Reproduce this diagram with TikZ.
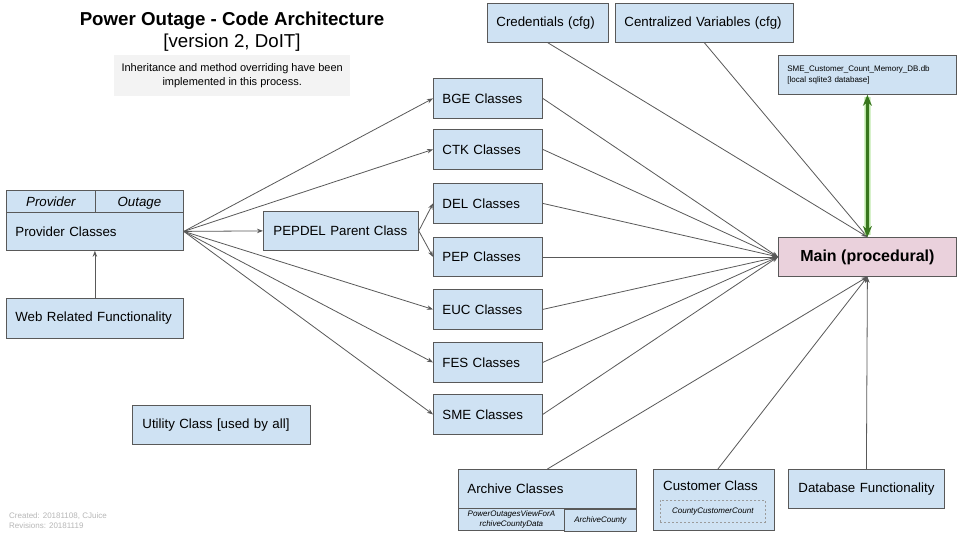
\documentclass[tikz,border=0pt]{standalone}
\usepackage{fontspec}
\setmainfont{Liberation Sans}
\usetikzlibrary{arrows.meta,calc}
\definecolor{boxblue}{HTML}{CFE2F3}
\definecolor{linec}{HTML}{595959}
\definecolor{mainpink}{HTML}{EAD1DC}
\definecolor{notegrey}{HTML}{F3F3F3}
\definecolor{darkgreen}{HTML}{38761D}
\definecolor{glowgreen}{HTML}{A8E08C}
\definecolor{footgrey}{HTML}{B7B7B7}
\begin{document}
\begin{tikzpicture}[x=1pt,y=-1pt,
  box/.style={draw=linec, fill=boxblue, line width=0.8pt, anchor=north west,
    inner xsep=9pt, inner ysep=0pt, align=left, font=\fontsize{13.3}{15}\selectfont},
  cell/.style={draw=linec, fill=boxblue, line width=0.8pt, anchor=north west,
    inner sep=0pt, align=center},
  conn/.style={draw=linec, line width=0.8pt, -{Stealth[length=6pt,width=4.5pt]}},
  smallit/.style={font=\itshape\fontsize{8}{10}\selectfont},
]
\useasboundingbox (0,0) rectangle (960,540);
\fill[white] (0,0) rectangle (960,540);

% title and note
\node[font=\bfseries\fontsize{18.7}{22}\selectfont, inner sep=0] (title) at (232,21) {Power Outage - Code Architecture};
\node[font=\fontsize{18.7}{22}\selectfont, inner sep=0] (ver) at (232,43) {[version 2, DoIT]};
\node[fill=notegrey, anchor=north west, minimum width=236pt, minimum height=41pt,
  align=center, font=\fontsize{11}{13.5}\selectfont, inner sep=0] (note) at (114,55)
  {Inheritance and method overriding have been\\implemented in this process.};

% provider
\node[cell, minimum width=89pt, minimum height=22pt, text height=9.5pt, text depth=0pt, font=\itshape\fontsize{13.3}{15}\selectfont] (ph1) at (6,190) {Provider};
\node[cell, minimum width=88pt, minimum height=22pt, text height=9.5pt, text depth=0pt, font=\itshape\fontsize{13.3}{15}\selectfont] (ph2) at (95,190) {Outage};
\node[box, minimum height=38pt, text width=159pt] (prov) at (6,212) {Provider Classes};
\node[box, minimum height=40pt, text width=159pt] (web) at (6,298) {Web Related Functionality};
\node[box, minimum height=39pt, text width=158pt, inner xsep=10pt] (util) at (132,405) {Utility Class [used by all]};

\node[box, minimum height=39pt, text width=135pt, inner xsep=10pt] (pepdel) at (263,211) {PEPDEL Parent Class};

% classes
\node[box, minimum height=40pt, text width=91pt] (bge) at (433,78) {BGE Classes};
\node[box, minimum height=40pt, text width=91pt] (ctk) at (433,129) {CTK Classes};
\node[box, minimum height=40pt, text width=91pt] (del) at (433,183) {DEL Classes};
\node[box, minimum height=39pt, text width=91pt] (pep) at (433,237) {PEP Classes};
\node[box, minimum height=40pt, text width=91pt] (euc) at (433,289) {EUC Classes};
\node[box, minimum height=40pt, text width=91pt] (fes) at (433,342) {FES Classes};
\node[box, minimum height=40pt, text width=91pt] (sme) at (433,394) {SME Classes};

% config
\node[box, minimum height=39pt, text width=103pt] (cred) at (487,3) {Credentials (cfg)};
\node[box, minimum height=39pt, text width=160pt] (cent) at (615,3) {Centralized Variables (cfg)};

% db and main
\node[box, minimum height=39pt, text width=160pt, font=\fontsize{8}{10.5}\selectfont] (db) at (778,55)
  {SME\_Customer\_Count\_Memory\_DB.db\\{[}local sqlite3 database{]}};
\node[draw=linec, line width=0.8pt, fill=mainpink, anchor=north west, minimum width=178pt, minimum height=39pt,
  font=\bfseries\fontsize{16}{19}\selectfont, inner sep=0] (main) at (778,237) {Main (procedural)};

% bottom
\node[box, minimum height=39pt, text width=160pt] (arch) at (458,469) {Archive Classes};
\node[cell, minimum width=106pt, minimum height=22pt, smallit] (ac1) at (458,508) {PowerOutagesViewForA\\rchiveCountyData};
\node[cell, minimum width=72pt, minimum height=22pt, smallit] (ac2) at (564,509) {ArchiveCounty};

\node[box, minimum width=121pt, minimum height=61pt] (cust) at (653,469) {};
\node[anchor=west, inner sep=0, font=\fontsize{13.3}{15}\selectfont] (custlbl) at (663,486) {Customer Class};
\node[draw=linec!60, dash pattern=on 2pt off 2pt, line width=0.6pt, anchor=north west,
  minimum width=105pt, minimum height=22pt, inner sep=0, smallit] (ccc) at (660,500) {CountyCustomerCount};

\node[box, minimum height=39pt, text width=136pt, inner xsep=10pt] (dbf) at (788,469) {\mbox{Database Functionality}};

% footer
\node[anchor=west, inner sep=0, text=footgrey, font=\fontsize{8}{9}\selectfont] (created) at (9,516) {Created: 20181108, CJuice};
\node[anchor=west, inner sep=0, text=footgrey, font=\fontsize{8}{9}\selectfont] (revised) at (9,526) {Revisions: 20181119};

% connectors
\draw[conn] (web.north) -- (prov.south);
\foreach \t in {bge,ctk,euc,fes,sme,pepdel} \draw[conn] (prov.east) -- (\t.west);
\draw[conn] (pepdel.east) -- (del.west);
\draw[conn] (pepdel.east) -- (pep.west);
\foreach \s in {bge,ctk,del,pep,euc,fes,sme} \draw[conn] (\s.east) -- (main.west);
\draw[conn] (cred.south) -- (main.north);
\draw[conn] (cent.south) -- (main.north);
\draw[conn] (arch.north) -- (main.south);
\draw[conn] ($(cust.north)+(4,0)$) -- (main.south);
\draw[conn] (dbf.north) -- (main.south);

% green double arrow with glow
\draw[glowgreen, line width=7pt, opacity=0.45] ($(db.south)+(0,2)$) -- ($(main.north)+(0,-2)$);
\draw[glowgreen, line width=4.5pt, opacity=0.6] ($(db.south)+(0,2)$) -- ($(main.north)+(0,-2)$);
\draw[darkgreen, line width=2.2pt, {Stealth[length=11pt,width=9pt]}-{Stealth[length=11pt,width=9pt]}] (db.south) -- (main.north);
\end{tikzpicture}
\end{document}
